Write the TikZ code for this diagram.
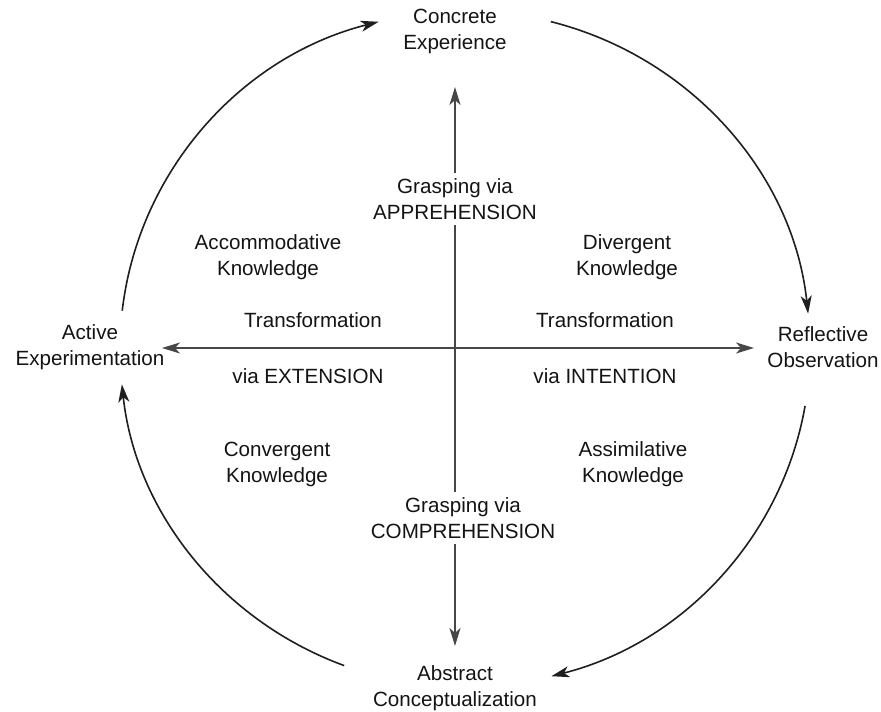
\documentclass[tikz,border=0pt]{standalone}
\usepackage{fontspec}
\setmainfont{Liberation Sans}
\usetikzlibrary{arrows.meta,calc}
\begin{document}
\begin{tikzpicture}[x=1pt,y=1pt,
  lbl/.style={align=center,font=\fontsize{20.6}{26}\selectfont,text=black!92,inner sep=3pt},
  wlbl/.style={lbl,fill=white,inner sep=5pt},
  cyc/.style={line width=1.6pt,black!88,-{Stealth[length=18pt,width=11pt,inset=5pt]}},
  axis/.style={line width=1.9pt,black!72,{Stealth[length=18pt,width=11pt,inset=5pt]}-{Stealth[length=18pt,width=11pt,inset=5pt]}}]
\useasboundingbox (0,0) rectangle (881,712);
\fill[white] (0,0) rectangle (881,712);
% axes
\coordinate (axT) at (455,625);
\coordinate (axB) at (455,66);
\coordinate (axL) at (162,364);
\coordinate (axR) at (754,364);
\draw[axis] (axB) -- (axT);
\draw[axis] (axL) -- (axR);
% poles
\node[lbl] (ce) at (455,681) {Concrete\\Experience};
\node[lbl] (ro) at (823,365) {Reflective\\Observation};
\node[lbl] (ac) at (455,24) {Abstract\\Conceptualization};
\node[lbl] (ae) at (90,365) {Active\\Experimentation};
% grasping
\node[wlbl] (ga) at (455,513) {Grasping via\\APPREHENSION};
\node[wlbl] (gc) at (463,194) {Grasping via\\COMPREHENSION};
% knowledge
\node[lbl] (acc) at (268,455) {Accommodative\\Knowledge};
\node[lbl] (div) at (627,455) {Divergent\\Knowledge};
\node[lbl] (con) at (277,248) {Convergent\\Knowledge};
\node[lbl] (ass) at (633,248) {Assimilative\\Knowledge};
% transformation
\node[lbl] (tl) at (313,392) {Transformation};
\node[lbl] (tr) at (605,392) {Transformation};
\node[lbl] (ve) at (308,336) {via EXTENSION};
\node[lbl] (vi) at (605,336) {via INTENTION};
% cycle arcs
\coordinate (c) at (465,363);
\draw[cyc] ($(c)+(173.5:345 and 338)$) arc[start angle=173.5,end angle=104.5,x radius=345pt,y radius=338pt];
\draw[cyc] ($(c)+(75.6:345 and 338)$) arc[start angle=75.6,end angle=6,x radius=345pt,y radius=338pt];
\draw[cyc] ($(c)+(-9.7:345 and 338)$) arc[start angle=-9.7,end angle=-75.5,x radius=345pt,y radius=338pt];
\draw[cyc] ($(c)+(249.5:345 and 338)$) arc[start angle=249.5,end angle=186,x radius=345pt,y radius=338pt];
\end{tikzpicture}
\end{document}
